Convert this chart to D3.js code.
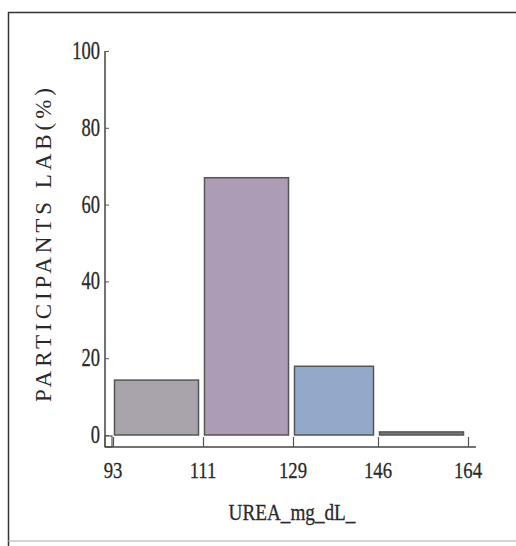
<!DOCTYPE html>
<html><head><meta charset="utf-8">
<script src="https://cdn.jsdelivr.net/npm/d3@7"></script>
<style>body{margin:0;background:#fff}svg{display:block}</style>
</head><body>
<script>
const binEdges = [93, 111, 129, 146, 164];
const percents = [14.3, 67.0, 17.9, 0.8];
const barColors = ["#a9a3ab", "#ad9cb6", "#93a9c9", "#7a7a7a"];
const yTicks = [0, 20, 40, 60, 80, 100];
const xTickLabels = ["93", "111", "129", "146", "164"];
const xTitle = "UREA_mg_dL_";
const yTitle = "PARTICIPANTS LAB(%)";

const W = 516, H = 546;
const svg = d3.select("body").append("svg").attr("width", W).attr("height", H);
// frame
svg.append("path").attr("d", "M8.5,546 L8.5,12.5 L516,12.5").attr("fill","none").attr("stroke","#333").attr("stroke-width",1.5);
svg.append("line").attr("x1",8).attr("x2",516).attr("y1",541).attr("y2",541).attr("stroke","#aaa").attr("stroke-width",1);

const x = d3.scaleLinear().domain([93,164]).range([113,468]);
const y = d3.scaleLinear().domain([0,100]).range([435,51]);
const font = "'Liberation Serif', 'DejaVu Serif', serif";

const bars = percents.map((p,i)=>({x0:binEdges[i], x1:binEdges[i+1], v:p, c:barColors[i]}));
svg.selectAll("rect.bar").data(bars).join("rect").attr("class","bar")
  .attr("x", d=>x(d.x0)+1.5).attr("width", d=>x(d.x1)-x(d.x0)-6)
  .attr("y", d=>y(d.v)).attr("height", d=>Math.max(2, y(0)-y(d.v)))
  .attr("fill", d=>d.c).attr("stroke","#555").attr("stroke-width",1.5);

// y axis
const yAxis = d3.axisRight(y).tickValues(yTicks).tickSize(4).tickFormat("");
const gy = svg.append("g").attr("transform","translate(105,0)").call(yAxis);
gy.select(".domain").attr("d", `M0,${y(100)}V447`).attr("stroke","#444").attr("stroke-width",1.5);
gy.selectAll(".tick line").attr("stroke","#555");
svg.selectAll("text.yt").data(yTicks).join("text").attr("class","yt")
  .attr("x", 100).attr("y", d=>y(d)+8).attr("text-anchor","end")
  .attr("font-family", font).attr("font-size", 25).attr("fill","#2a2a2a")
  .attr("stroke","#2a2a2a").attr("stroke-width",0.3)
  .attr("transform", d=>`translate(100,0) scale(0.74,1) translate(-100,0)`)
  .text(d=>d);
// small box at origin
svg.append("rect").attr("x",105).attr("y",436).attr("width",7).attr("height",11).attr("fill","none").attr("stroke","#555").attr("stroke-width",1.2);

// x axis
const xAxis = d3.axisTop(x).tickValues(binEdges).tickSize(10).tickFormat("");
const gx = svg.append("g").attr("transform","translate(0,447)").call(xAxis);
gx.select(".domain").attr("d","M105,0H476").attr("stroke","#444").attr("stroke-width",1.5);
gx.selectAll(".tick line").attr("stroke","#555").attr("stroke-width",1.2);
svg.selectAll("text.xt").data(binEdges).join("text").attr("class","xt")
  .attr("x", d=>x(d)).attr("y", 478).attr("text-anchor","middle")
  .attr("font-family", font).attr("font-size", 24).attr("fill","#2a2a2a")
  .attr("stroke","#2a2a2a").attr("stroke-width",0.3)
  .attr("transform", d=>`translate(${x(d)},0) scale(0.78,1) translate(${-x(d)},0)`)
  .text((d,i)=>xTickLabels[i]);

svg.append("text").attr("x",292).attr("y",520).attr("text-anchor","middle")
  .attr("font-family",font).attr("font-size",24).attr("fill","#2a2a2a")
  .attr("stroke","#2a2a2a").attr("stroke-width",0.3)
  .attr("transform","translate(292,0) scale(0.8,1) translate(-292,0)")
  .text(xTitle);
svg.append("text").attr("transform","translate(51,245) rotate(-90)").attr("text-anchor","middle")
  .attr("font-family",font).attr("font-size",23).attr("fill","#2a2a2a")
  .attr("textLength",314).attr("lengthAdjust","spacing")
  .text(yTitle);
</script>
</body></html>
